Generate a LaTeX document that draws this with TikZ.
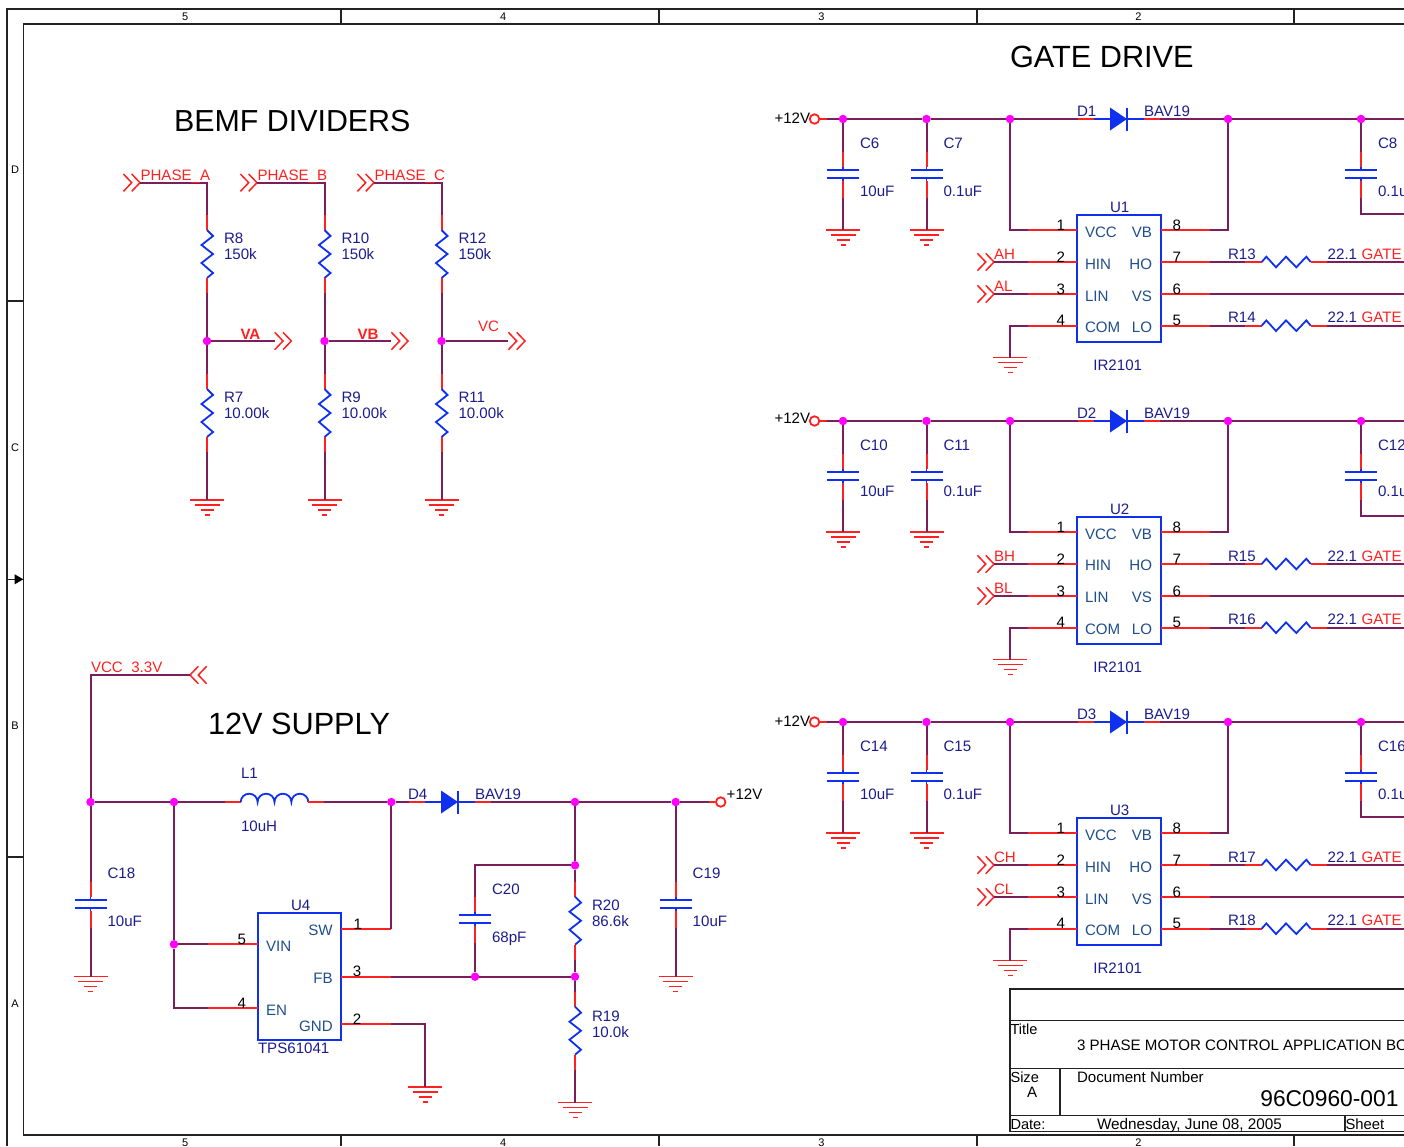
\documentclass[tikz,border=0pt]{standalone}
\usepackage{fontspec}
\setmainfont{Liberation Sans}
\definecolor{wirec}{HTML}{7B1E5C}
\definecolor{leadc}{HTML}{FF2020}
\definecolor{partc}{HTML}{1030F0}
\definecolor{navyc}{HTML}{1C1C8C}
\definecolor{pinc}{HTML}{1F4E8C}
\definecolor{framec}{HTML}{222222}
\definecolor{dotc}{HTML}{FF00FF}
\newcommand\fsz[1]{\fontsize{#1}{#1}\selectfont}
\newcounter{tn}
\def\ladj{0}\def\capadj{0}\def\plusadj{0}\def\hinadj{0}
\tikzset{
  wire/.style={draw=wirec,line width=2pt},
  lead/.style={draw=leadc,line width=2pt},
  part/.style={draw=partc,line width=1.8pt},
  chev/.style={draw=leadc,line width=1.5pt},
  gnd/.style={draw=leadc,line width=1.5pt},
  frm/.style={draw=framec,line width=1.4pt},
  junction/.style={circle,fill=dotc,inner sep=0pt,minimum size=8.5pt},
  portc/.style={circle,draw=leadc,line width=1.8pt,fill=white,inner sep=0pt,minimum size=9.5pt},
  txt/.style={font=\fsz{15.1},text=navyc,inner sep=0pt,outer sep=0pt,anchor=base west},
  ttl/.style={txt,font=\fsz{30.7},text=black},
  num/.style={txt,text=black,anchor=base},
  pname/.style={txt,text=pinc},
  rtxt/.style={txt,text=leadc},
  sheet/.style={txt,text=black,font=\fsz{15.1}},
  zone/.style={txt,text=black,font=\fsz{11},anchor=center},
  icbox/.style={draw=partc,line width=1.8pt,anchor=north west,inner sep=0pt,outer sep=0pt,fill=none},
}
% text node with an automatic name
\newcommand\T[4][]{\stepcounter{tn}\node[txt,#1] (t\arabic{tn}) at (#2,#3) {#4};}
\newcommand\J[3]{\node[junction] (#1) at (#2,#3) {};}
% vertical resistor: name,x,top,label,value
\newcommand\ResV[5]{%
  \begin{scope}[shift={(#2,#3)}]
    \coordinate (#1-a) at (0,0); \coordinate (#1-b) at (0,78);
    \draw[lead] (#1-a) -- (0,15);
    \draw[part,line join=miter] (0,15) -- (6,21) -- (-5.5,30) -- (6,39) -- (-5.5,48) -- (6,58) -- (0,63);
    \draw[lead] (0,63) -- (#1-b);
  \end{scope}
  \T{#2+17}{#3+28+\ladj}{#4}\T{#2+17}{#3+44+\ladj}{#5}}
% vertical capacitor: name,x,top,label,value
\newcommand\CapV[5]{%
  \begin{scope}[shift={(#2,#3)}]
    \coordinate (#1-a) at (0,0); \coordinate (#1-b) at (0,46);
    \draw[lead] (#1-a) -- (0,15);
    \draw[part] (0,15) -- (0,18) (-16,18) -- (16,18) (-16,26) -- (16,26) (0,26) -- (0,29);
    \draw[lead] (0,29) -- (#1-b);
  \end{scope}
  \T{#2+17}{#3-4+\ladj}{#4}\T{#2+17}{#3+44+\ladj+\capadj}{#5}}
% ground: name,x,y
\newcommand\Gnd[3]{%
  \begin{scope}[shift={(#2,#3)}]
    \coordinate (#1) at (0,0);
    \draw[gnd] (-17,0) -- (17,0) (-12.5,5) -- (12.5,5) (-6.5,10) -- (6.5,10) (-2.5,15) -- (2.5,15);
  \end{scope}}
% chevrons pointing right: name,tip x,y  (-a back, -b tip)
\newcommand\ChevR[3]{%
  \begin{scope}[shift={(#2,#3)}]
    \coordinate (#1-b) at (0,0); \coordinate (#1-a) at (-16.6,0);
    \draw[chev] (-16.6,-8.7) -- (-8.3,0) -- (-16.6,8.7) (-8.3,-8.7) -- (0,0) -- (-8.3,8.7);
  \end{scope}}
% chevrons pointing left: name,tip x,y
\newcommand\ChevL[3]{%
  \begin{scope}[shift={(#2,#3)}]
    \coordinate (#1-b) at (0,0);
    \draw[chev] (16.6,-8.7) -- (8.3,0) -- (16.6,8.7) (8.3,-8.7) -- (0,0) -- (8.3,8.7);
  \end{scope}}
% diode: name,x0,y,label,value
\newcommand\DiodeH[5]{%
  \begin{scope}[shift={(#2,#3)}]
    \coordinate (#1-a) at (-32,0); \coordinate (#1-b) at (50,0);
    \draw[lead] (#1-a) -- (-16,0);
    \draw[part] (-16,0) -- (0,0) (17,-11.5) -- (17,11.5) (17,0) -- (34,0);
    \fill[partc] (0,-11.5) -- (17,0) -- (0,11.5) -- cycle;
    \draw[lead] (34,0) -- (#1-b);
  \end{scope}
  \T{#2-33}{#3-3}{#4}\T{#2+34}{#3-3}{#5}}
% horizontal resistor: name,x,y,label,value
\newcommand\ResH[5]{%
  \begin{scope}[shift={(#2,#3)}]
    \coordinate (#1-a) at (0,0); \coordinate (#1-b) at (82,0);
    \draw[lead] (#1-a) -- (16.7,0);
    \draw[part] (16.7,0) -- (21.3,-5.3) -- (31,5.3) -- (41,-5.3) -- (51.3,5.3) -- (61.3,-5.3) -- (65.7,0);
    \draw[lead] (65.7,0) -- (#1-b);
  \end{scope}
  \T{#2-17}{#3-3}{#4}\T{#2+82.7}{#3-3}{#5}}
% pin: name,outer x,box x,y,number x,number
\newcommand\PinE[6]{%
  \coordinate (#1-o) at (#2,#4); \coordinate (#1-i) at (#3,#4);
  \draw[lead] (#1-o) -- (#1-i);
  \T[num]{#5}{#4}{#6}}
% gate drive block: n,y offset,C1,C2,C3,letter,R1,R2
\newcommand\GateBlock[8]{%
  \begin{scope}[shift={(0,#2)}]
    \J{g#1j1}{843}{119}\J{g#1j2}{926.5}{119}\J{g#1j3}{1010}{119}\J{g#1j4}{1228}{119}\J{g#1j5}{1361}{119}
    \node[portc] (g#1port) at (814.5,119) {};
    \T[text=black]{774.5}{123+\plusadj}{+12V}
    \CapV{g#1c1}{843}{152}{#3}{10uF}
    \CapV{g#1c2}{926.5}{152}{#4}{0.1uF}
    \CapV{g#1c3}{1361}{152}{#5}{0.1u}
    \Gnd{g#1g1}{843}{230}\Gnd{g#1g2}{926.5}{230}\Gnd{g#1g3}{1010}{357.7}
    \DiodeH{g#1d}{1110}{119}{D#1}{BAV19}
    \coordinate (g#1e0) at (1404,119); \coordinate (g#1e1) at (1404,214);
    \coordinate (g#1e7) at (1404,262); \coordinate (g#1e6) at (1404,294); \coordinate (g#1e5) at (1404,325.7);
    \draw[lead] (g#1port) -- (826.7,119);
    \draw[wire] (826.7,119) -- (g#1j1);
    \draw[wire] (g#1j1) -- (g#1j2);
    \draw[wire] (g#1j2) -- (g#1j3);
    \draw[wire] (g#1j3) -- (g#1d-a);
    \draw[wire] (g#1d-b) -- (g#1j4);
    \draw[wire] (g#1j4) -- (g#1j5);
    \draw[wire] (g#1j5) -- (g#1e0);
    \draw[wire] (g#1j1) -- (g#1c1-a); \draw[wire] (g#1c1-b) -- (g#1g1);
    \draw[wire] (g#1j2) -- (g#1c2-a); \draw[wire] (g#1c2-b) -- (g#1g2);
    \draw[wire] (g#1j5) -- (g#1c3-a); \draw[wire] (g#1c3-b) |- (g#1e1);
    \node[icbox,minimum width=84pt,minimum height=127pt] (g#1u) at (1076.7,214.7) {};
    \T[anchor=base]{1119.7}{212}{U#1}
    \T[anchor=base]{1117.7}{370}{IR2101}
    \PinE{g#1p1}{1028}{1077}{230.3}{1060.7}{1}
    \PinE{g#1p2}{1028}{1077}{262}{1060.7}{2}
    \PinE{g#1p3}{1028}{1077}{294}{1060.7}{3}
    \PinE{g#1p4}{1028}{1077}{325.7}{1060.7}{4}
    \PinE{g#1p8}{1210}{1161}{230.3}{1176.7}{8}
    \PinE{g#1p7}{1210}{1161}{262}{1176.7}{7}
    \PinE{g#1p6}{1210}{1161}{294}{1176.7}{6}
    \PinE{g#1p5}{1210}{1161}{325.7}{1176.7}{5}
    \T[pname]{1085}{237.5}{VCC}\T[pname]{1085}{269+\hinadj}{HIN}\T[pname]{1085}{301+\hinadj}{LIN}\T[pname]{1085}{332.5}{COM}
    \T[pname,anchor=base east]{1152}{237.5}{VB}\T[pname,anchor=base east]{1152}{269+\hinadj}{HO}
    \T[pname,anchor=base east]{1152}{301+\hinadj}{VS}\T[pname,anchor=base east]{1152}{332.5}{LO}
    \ChevR{g#1h}{994}{262}\ChevR{g#1l}{994}{294}
    \T[rtxt]{994}{259}{#6H}\T[rtxt]{994}{291}{#6L}
    \draw[wire] (g#1h-b) -- (g#1p2-o);
    \draw[wire] (g#1l-b) -- (g#1p3-o);
    \draw[wire] (g#1j3) |- (g#1p1-o);
    \draw[wire] (g#1g3) |- (g#1p4-o);
    \draw[wire] (g#1j4) |- (g#1p8-o);
    \ResH{g#1r1}{1245}{262}{#7}{22.1}
    \ResH{g#1r2}{1245}{325.7}{#8}{22.1}
    \T[rtxt]{1361.7}{259}{GATE}\T[rtxt]{1361.7}{322.7}{GATE}
    \draw[wire] (g#1p7-o) -- (g#1r1-a); \draw[wire] (g#1r1-b) -- (g#1e7);
    \draw[wire] (g#1p5-o) -- (g#1r2-a); \draw[wire] (g#1r2-b) -- (g#1e5);
    \draw[wire] (g#1p6-o) -- (g#1e6);
  \end{scope}}
% divider: prefix,x,tip x,R1,R2,unused,out tip x
\newcommand\Divider[7]{%
  \J{#1j}{#2}{341}
  \ChevR{#1in}{#3}{182.7}
  \ChevR{#1out}{#7}{341}
  \coordinate (#1corner) at (#2,182.7);
  \ResV{#1r1}{#2}{215}{#4}{150k}
  \ResV{#1r2}{#2}{374}{#5}{10.00k}
  \Gnd{#1g}{#2}{500}
  \draw[wire] (#1in-b) -- (#1corner) -- (#1r1-a);
  \draw[wire] (#1r1-b) -- (#1j);
  \draw[wire] (#1j) -- (#1r2-a);
  \draw[wire] (#1r2-b) -- (#1g);
  \draw[wire] (#1j) -- (#1out-a);}

\begin{document}
\begin{tikzpicture}[x=1pt,y=-1pt]
\useasboundingbox (0,0) rectangle (1404,1146);
\clip (0,0) rectangle (1404,1146);
\fill[white] (0,0) rectangle (1404,1146);
% frame
\coordinate (fo1) at (1404,9); \coordinate (fo2) at (7,9); \coordinate (fo3) at (7,1146);
\coordinate (fi1) at (1404,24); \coordinate (fi2) at (23.3,24); \coordinate (fi3) at (23.3,1135); \coordinate (fi4) at (1404,1135);
\draw[frm] (fo1) -- (fo2) -- (fo3);
\draw[frm] (fi1) -- (fi2) -- (fi3) -- (fi4);
\draw[frm] (341,9) -- (341,24) (659,9) -- (659,24) (977,9) -- (977,24) (1294,9) -- (1294,24);
\draw[frm] (341,1135) -- (341,1146) (659,1135) -- (659,1146) (977,1135) -- (977,1146) (1294,1135) -- (1294,1146);
\draw[frm] (7,301) -- (23.3,301) (7,857) -- (23.3,857);
\draw[frm] (7,579.3) -- (15,579.3);
\fill[black] (14.7,574.3) -- (23.3,579.3) -- (14.7,584.3) -- cycle;
\T[zone]{185.3}{16.5}{5}\T[zone]{503.3}{16.5}{4}\T[zone]{821.3}{16.5}{3}\T[zone]{1138.5}{16.5}{2}
\T[zone]{185.3}{1142.5}{5}\T[zone]{503.3}{1142.5}{4}\T[zone]{821.3}{1142.5}{3}\T[zone]{1138.5}{1142.5}{2}
\T[zone]{15}{169.5}{D}\T[zone]{15}{447.5}{C}\T[zone]{15}{725.5}{B}\T[zone]{15}{1003.5}{A}
% titles
\T[ttl,font=\fsz{30.4}]{174}{131}{BEMF DIVIDERS}
\T[ttl]{1010}{67}{GATE DRIVE}
\T[ttl]{208}{734}{12V SUPPLY}
% BEMF dividers
\Divider{da}{207}{140}{R8}{R7}{}{291.3}
\Divider{db}{324.5}{257}{R10}{R9}{}{408}
\Divider{dc}{441.5}{374}{R12}{R11}{}{525}
\T[rtxt]{140.5}{180.7}{PHASE\_A}
\T[rtxt]{257.5}{180.7}{PHASE\_B}
\T[rtxt]{374.5}{180.7}{PHASE\_C}
\T[rtxt,font=\fsz{15.1}\bfseries]{240.5}{339}{VA}
\T[rtxt,font=\fsz{15.1}\bfseries]{357.5}{339}{VB}
\T[rtxt]{478}{331.5}{VC}
% gate drive
\GateBlock{1}{0}{C6}{C7}{C8}{A}{R13}{R14}
\def\capadj{-2}\def\plusadj{-2}\def\hinadj{-1}
\GateBlock{2}{302}{C10}{C11}{C12}{B}{R15}{R16}
\def\capadj{0}\def\plusadj{0}\def\hinadj{0}
\GateBlock{3}{603}{C14}{C15}{C16}{C}{R17}{R18}
% 12V supply
\J{sj1}{90.5}{802}\J{sj2}{174}{802}\J{sj3}{391.3}{802}\J{sj4}{575}{802}\J{sj5}{675.7}{802}
\J{sj6}{174}{944.3}\J{sj7}{575}{865.3}\J{sj8}{475}{976.7}\J{sj9}{575}{976.7}
\ChevL{svcc}{190}{675}
\coordinate (svc) at (90.5,675);
\T[rtxt]{91}{672.7}{VCC\_3.3V}
\draw[wire] (svcc-b) -- (svc) -- (sj1);
\CapV{sc18}{90.5}{882}{C18}{10uF}
\Gnd{sg18}{90.5}{976.7}
\draw[wire] (sj1) -- (sc18-a); \draw[wire] (sc18-b) -- (sg18);
% inductor
\coordinate (sl-a) at (225,802); \coordinate (sl-b) at (324,802);
\draw[lead] (sl-a) -- (240.7,802);
\draw[part] (240.7,802) arc[start angle=180,end angle=0,x radius=8.45,y radius=-8.3]
  arc[start angle=180,end angle=0,x radius=8.45,y radius=-8.3]
  arc[start angle=180,end angle=0,x radius=8.45,y radius=-8.3]
  arc[start angle=180,end angle=0,x radius=8.45,y radius=-8.3];
\draw[lead] (308.3,802) -- (sl-b);
\T{241}{778}{L1}\T{241}{831}{10uH}
\draw[wire] (sj1) -- (sj2);
\draw[wire] (sj2) -- (sl-a);
\draw[wire] (sl-b) -- (sj3);
\DiodeH{sd}{441}{802}{D4}{BAV19}
\draw[wire] (sj3) -- (sd-a);
\draw[wire] (sd-b) -- (sj4);
\draw[wire] (sj4) -- (sj5);
\node[portc] (sport) at (720.7,802) {};
\coordinate (sportl) at (709,802);
\draw[wire] (sj5) -- (sportl);
\draw[lead] (sportl) -- (sport);
\T[text=black]{726.7}{799}{+12V}
\draw[wire] (sj2) -- (sj6);
% U4
\node[icbox,minimum width=83.6pt,minimum height=127pt] (su4) at (257.7,913) {};
\T[anchor=base]{300.7}{910}{U4}
\T{258}{1053}{TPS61041}
\T[pname]{266}{951}{VIN}\T[pname]{266}{1015}{EN}
\T[pname,anchor=base east]{332.7}{935}{SW}\T[pname,anchor=base east]{332.7}{983}{FB}\T[pname,anchor=base east]{332.7}{1031}{GND}
\PinE{sp5}{207.7}{257.7}{944.3}{241.7}{5}
\PinE{sp4}{207.7}{257.7}{1008.3}{241.7}{4}
\PinE{sp1}{391.3}{341.3}{929}{357.7}{1}
\PinE{sp3}{391.3}{341.3}{976.7}{357}{3}
\PinE{sp2}{391.3}{341.3}{1024}{357}{2}
\draw[wire] (sj6) -- (sp5-o);
\draw[wire] (sj6) |- (sp4-o);
\draw[wire] (sj3) -- (sp1-o);
\draw[wire] (sp3-o) -- (sj8);
\draw[wire] (sj8) -- (sj9);
\Gnd{sg2}{425}{1087}
\draw[wire] (sp2-o) -| (sg2);
% feedback network
\def\ladj{1}
\ResV{sr20}{575}{881.7}{R20}{86.6k}
\CapV{sc20}{475}{897.3}{C20}{68pF}
\CapV{sc19}{675.7}{881.7}{C19}{10uF}
\def\ladj{2}
\ResV{sr19}{575}{991.7}{R19}{10.0k}
\def\ladj{0}
\Gnd{sg19}{575}{1102.7}\Gnd{sgc19}{675.7}{976.7}
\draw[wire] (sj4) -- (sj7);
\draw[wire] (sj7) -- (sr20-a);
\draw[wire] (sr20-b) -- (sj9);
\draw[wire] (sj9) -- (sr19-a);
\draw[wire] (sr19-b) -- (sg19);
\draw[wire] (sj7) -| (sc20-a);
\draw[wire] (sc20-b) -- (sj8);
\draw[wire] (sj5) -- (sc19-a);
\draw[wire] (sc19-b) -- (sgc19);
% title block
\coordinate (tb1) at (1404,989); \coordinate (tb2) at (1010,989); \coordinate (tb3) at (1010,1131.5); \coordinate (tb4) at (1404,1131.5);
\draw[frm] (tb1) -- (tb2) -- (tb3) -- (tb4);
\draw[frm] (1010,1020.7) -- (1404,1020.7) (1010,1068.3) -- (1404,1068.3) (1010,1115.7) -- (1404,1115.7);
\draw[frm] (1060,1068.3) -- (1060,1115.7) (1345,1115.7) -- (1345,1131.5);
\T[sheet,font=\fsz{14.6}]{1010.5}{1034}{Title}
\T[sheet]{1077}{1050}{3 PHASE MOTOR CONTROL APPLICATION BO}
\T[sheet,font=\fsz{14.6}]{1010.5}{1082}{Size}
\T[sheet]{1027}{1097}{A}
\T[sheet]{1077}{1082}{Document Number}
\T[sheet,font=\fsz{22.8},anchor=base east]{1398.5}{1106}{96C0960-001}
\T[sheet,font=\fsz{14.6}]{1010.5}{1129}{Date:}
\T[sheet,font=\fsz{15.3}]{1097}{1129}{Wednesday, June 08, 2005}
\T[sheet,font=\fsz{14.8}]{1345.5}{1129}{Sheet}
\end{tikzpicture}
\end{document}
